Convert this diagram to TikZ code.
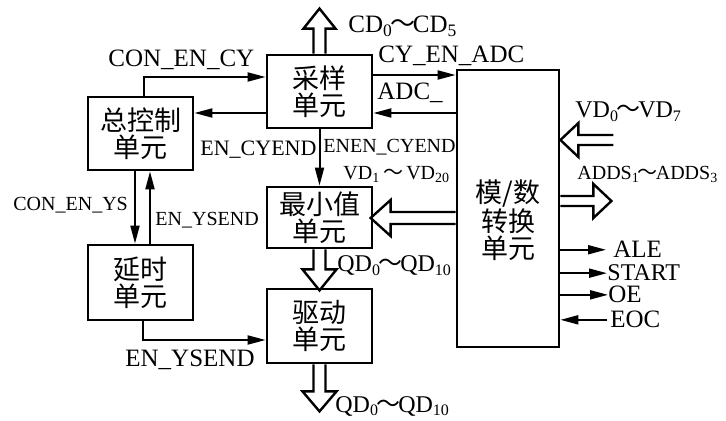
\documentclass[tikz,border=0pt]{standalone}
\usepackage{fontspec}
\setmainfont{Liberation Serif}
\newfontfamily\cjk{Noto Sans CJK SC}
\usetikzlibrary{arrows.meta, calc}
\newcommand\wavedash{{\cjk\kern-0.1em～\kern-0.1em}}

\begin{document}
\begin{tikzpicture}[x=0.5pt, y=-0.5pt,
  box/.style={draw, line width=1.4pt, minimum width=52.5pt, inner sep=1pt, align=center, font=\cjk\fontsize{13.5}{13.5}\selectfont},
  sig/.style={line width=1pt, -{Triangle[length=9pt, width=4.5pt]}},
  bus/.style={line width=1.2pt},
  lab/.style={inner sep=0pt, anchor=base west, font=\fontsize{12.5}{14}\selectfont},
  slab/.style={lab, font=\fontsize{10}{12}\selectfont}]
  \useasboundingbox (0,0) rectangle (726,421);
  % units
  \node[box, minimum height=36.5pt] (cy) at (319.5,91.5) {采样\\单元};
  \node[box, minimum height=36.5pt] (zk) at (140.5,133.5) {总控制\\单元};
  \node[box, minimum height=37.5pt] (ys) at (140.5,282.5) {延时\\单元};
  \node[box, minimum height=30.5pt] (zx) at (319.5,217.5) {最小值\\单元};
  \node[box, minimum height=37pt] (qd) at (319.5,326) {驱动\\单元};
  \node[box, minimum width=51pt, minimum height=138.5pt] (adc) at (508,208.5) {};
  \node[font=\cjk\fontsize{13.5}{13.5}\selectfont, align=center] (adct) at (508,220) {模/数\\转换\\单元};
  % labels
  \node[lab] (cdl) at (348,33) {CD\textsubscript{0}\wavedash CD\textsubscript{5}};
  \node[lab] (cecy) at (108,67) {CON\_EN\_CY};
  \node[lab] (ceadc) at (378,63) {CY\_EN\_ADC};
  \node[lab] (adcl) at (377,100) {ADC\_};
  \node[slab, font=\fontsize{11}{12}\selectfont] (ecy) at (200,156) {EN\_CYEND};
  \node[slab] (eecy) at (323,153) {ENEN\_CYEND};
  \node[slab] (vd1) at (343,180) {VD\textsubscript{1} \wavedash{} VD\textsubscript{20}};
  \node[lab, font=\fontsize{12}{14}\selectfont] (vd0) at (575,118) {VD\textsubscript{0}\wavedash VD\textsubscript{7}};
  \node[slab] (adds) at (577,180) {ADDS\textsubscript{1}\wavedash ADDS\textsubscript{3}};
  \node[slab] (ceys) at (13,211) {CON\_EN\_YS};
  \node[slab] (eys1) at (155,226) {EN\_YSEND};
  \node[lab] (eys2) at (125,366) {EN\_YSEND};
  \node[lab, font=\fontsize{12}{14}\selectfont] (qd1) at (337,272) {QD\textsubscript{0}\wavedash QD\textsubscript{10}};
  \node[lab, font=\fontsize{12}{14}\selectfont] (qd2) at (335,412) {QD\textsubscript{0}\wavedash QD\textsubscript{10}};
  \node[lab] (ale) at (613,258) {ALE};
  \node[lab, font=\fontsize{12}{14}\selectfont] (start) at (607,281) {START};
  \node[lab] (oe) at (608,303) {OE};
  \node[lab] (eoc) at (610,328) {EOC};
  % control lines
  \draw[sig] ($(zk.north)+(3.5,0)$) |- ($(cy.west)+(0,-14.5)$);
  \coordinate (c1) at ($(cy.west)+(0,21.5)$);
  \draw[sig] (c1) -- (c1 -| zk.east);
  \draw[sig] (cy.south) -- (zx.north);
  \coordinate (c2) at ($(cy.east)+(0,-16.5)$);
  \draw[sig] (c2) -- (c2 -| adc.west);
  \coordinate (c3) at ($(cy.east)+(0,21.5)$);
  \draw[sig] (c3 -| adc.west) -- (c3);
  \draw[sig] ($(zk.south)+(-5.5,0)$) -- ($(ys.north)+(-5.5,0)$);
  \draw[sig] ($(ys.north)+(9.5,0)$) -- ($(zk.south)+(9.5,0)$);
  \draw[sig] ($(ys.south)+(2.5,0)$) |- ($(qd.west)+(0,14)$);
  \draw[sig] (ale.west -| adc.east) -- ($(ale.west)+(-7,0)$);
  \draw[sig] (start.west -| adc.east) -- (start.west);
  \draw[sig] (oe.west -| adc.east) -- (oe.west);
  \draw[sig] ($(eoc.west)+(-3,0)$) -- (eoc.west -| adc.east);
  % buses
  \draw[bus] ($(cy.north)+(-6,0)$) -- ++(0,-25) -- ++(-10,0) -- ++(16,-20) -- ++(16,20) -- ++(-10,0) -- ++(0,25);
  \draw[bus] ($(adc.east)+(53,-73.5)$) -- ++(-35,0) -- ++(0,-12) -- ++(-18,17) -- ++(18,17) -- ++(0,-12) -- ++(35,0);
  \draw[bus] ($(adc.east)+(0,-12.5)$) -- ++(33,0) -- ++(0,-12) -- ++(18,17) -- ++(-18,17) -- ++(0,-12) -- ++(-33,0);
  \draw[bus] ($(adc.west)+(0,3.5)$) -- ++(-65,0) -- ++(0,-12) -- ++(-20,18) -- ++(20,18) -- ++(0,-12) -- ++(65,0);
  \draw[bus] ($(zx.south)+(-6,0)$) -- ++(0,20) -- ++(-11,0) -- ++(17,21) -- ++(17,-21) -- ++(-11,0) -- ++(0,-20);
  \draw[bus] ($(qd.south)+(-6,0)$) -- ++(0,27) -- ++(-11,0) -- ++(17,20) -- ++(17,-20) -- ++(-11,0) -- ++(0,-27);
\end{tikzpicture}
\end{document}
